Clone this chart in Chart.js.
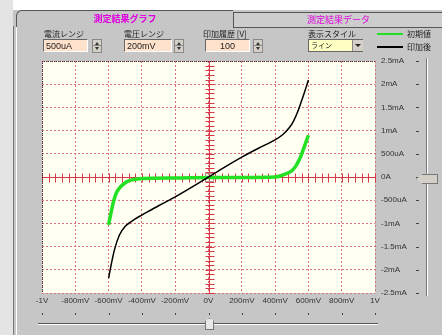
<!DOCTYPE html>
<html>
<head>
<meta charset="utf-8">
<script src="https://cdn.jsdelivr.net/npm/chart.js@4/dist/chart.umd.min.js"></script>
<style>
  body { margin:0; width:442px; height:335px; overflow:hidden; background:#c6c6c6; position:relative;
         font-family:"Noto Sans CJK JP","DejaVu Sans",sans-serif; font-size:8px; color:#222; }
  .abs { position:absolute; }
  #topband { left:0; top:0; width:442px; height:10px; background:#fff; }
  #leftstrip { left:0; top:0; width:13px; height:335px; background:#e4e4e4; }
  #frame { left:13px; top:26px; width:2px; height:309px; border-left:1px solid #777; border-right:1px solid #fff; background:#c6c6c6; }
  .tab { top:10px; height:16px; text-align:center; line-height:16px; color:#e000e0; font-weight:bold; font-size:9px; }
  #tab1 { left:16px; width:216px; border-top:1px solid #555; border-left:1px solid #555; border-top-left-radius:6px; background:#c6c6c6; }
  #tab2 { left:233px; top:12px; height:14px; line-height:14px; width:209px; border-top:1px solid #555; border-left:1px solid #555; border-bottom:1px solid #555; background:#cdcdcd; font-weight:normal; }
  .lbl { top:28px; font-size:8px; color:#222; white-space:nowrap; }
  .inp { top:39px; height:13px; line-height:12px; background:#ffe2cc; border-top:1px solid #666; border-left:1px solid #666;
         border-bottom:1px solid #fff; border-right:1px solid #fff; font-family:"Liberation Sans",sans-serif; font-size:9px; padding-left:2px; box-sizing:border-box; }
  .spin { top:39px; width:10px; height:14px; background:#d4d0c8; border:1px solid #888; box-sizing:border-box; }
  .spin:before, .spin:after { content:""; position:absolute; left:2px; border-left:2px solid transparent; border-right:2px solid transparent; }
  .spin:before { top:2px; border-bottom:3px solid #333; }
  .spin:after { top:7px; border-top:3px solid #333; }
  .spin i { position:absolute; left:0; top:5px; width:8px; height:1px; background:#888; }
  #sel { left:308px; top:39px; width:55px; height:13px; background:#ffffc4; border:1px solid #666; box-sizing:border-box; line-height:11px; padding-left:2px; font-size:7px; }
  #selbtn { left:352px; top:40px; width:10px; height:11px; background:#d4d0c8; border-left:1px solid #888; }
  #selbtn:after { content:""; position:absolute; left:2px; top:4px; border-left:3px solid transparent; border-right:3px solid transparent; border-top:3px solid #222; }
  .legline { left:377px; width:26px; height:2px; }
  .legtxt { left:407px; font-size:8px; }
  #vtrack { left:426px; top:58px; width:1px; height:238px; background:#777; border-right:1px solid #fff; }
  #vthumb { left:416px; top:174px; width:20px; height:8px; background:#d4d0c8; border:1px solid #777;
            clip-path:polygon(0 50%, 30% 0, 100% 0, 100% 100%, 30% 100%); }
  #htrack { left:38px; top:323px; width:340px; height:1px; background:#555; border-bottom:1px solid #fff; }
  #hthumb { left:205px; top:318px; width:9px; height:12px; background:#e8e8e8; border:1px solid #777; box-sizing:border-box;
            clip-path:polygon(50% 0, 100% 25%, 100% 100%, 0 100%, 0 25%); }
</style>
</head>
<body>
<canvas id="chart" width="442" height="335" class="abs" style="left:0;top:0"></canvas>

<div id="topband" class="abs"></div>
<div id="leftstrip" class="abs"></div>
<div id="frame" class="abs"></div>
<div id="tab1" class="abs tab">測定結果グラフ</div>
<div id="tab2" class="abs tab">測定結果データ</div>

<div class="abs lbl" style="left:44px">電流レンジ</div>
<div class="abs inp" style="left:43px;width:45px">500uA</div>
<div class="abs spin" style="left:92px"><i></i></div>

<div class="abs lbl" style="left:124px">電圧レンジ</div>
<div class="abs inp" style="left:124px;width:48px">200mV</div>
<div class="abs spin" style="left:174px"><i></i></div>

<div class="abs lbl" style="left:203px">印加履歴 [V]</div>
<div class="abs inp" style="left:205px;width:45px;text-align:center;padding:0">100</div>
<div class="abs spin" style="left:253px"><i></i></div>

<div class="abs lbl" style="left:308px">表示スタイル</div>
<div id="sel" class="abs">ライン</div>
<div id="selbtn" class="abs"></div>

<div class="abs legline" style="top:33px;background:#22e022"></div>
<div class="abs legtxt" style="top:28px">初期値</div>
<div class="abs legline" style="top:46px;background:#000"></div>
<div class="abs legtxt" style="top:41px">印加後</div>

<div id="vtrack" class="abs"></div>
<div id="vthumb" class="abs"></div>
<div id="htrack" class="abs"></div>
<div id="hthumb" class="abs"></div>

<script>
// voltage (mV) / current (mA)
const initV = [-600, -590, -582, -570, -553, -535, -516, -490, -456, -400, -200, 0, 200, 400, 445, 480, 505, 525, 545, 560, 575, 590, 600];
const initI = [-1.03, -0.85, -0.71, -0.52, -0.34, -0.24, -0.17, -0.10, -0.06, -0.03, -0.02, -0.01, -0.01, 0, 0.04, 0.09, 0.15, 0.24, 0.37, 0.50, 0.65, 0.80, 0.90];

const afterV = [-600, -585, -565, -535, -500, -475, -440, -400, -300, -200, -100, 0, 100, 200, 300, 400, 445, 485, 510, 535, 555, 575, 600];
const afterI = [-2.18, -1.90, -1.57, -1.25, -1.06, -0.99, -0.90, -0.82, -0.62, -0.43, -0.22, 0, 0.22, 0.43, 0.62, 0.80, 0.91, 1.06, 1.20, 1.40, 1.60, 1.81, 2.09];

const xTickLabels = ['-1V', '-800mV', '-600mV', '-400mV', '-200mV', '0V', '200mV', '400mV', '600mV', '800mV', '1V'];
const yTickLabels = ['-2.5mA', '-2mA', '-1.5mA', '-1mA', '-500uA', '0A', '500uA', '1mA', '1.5mA', '2mA', '2.5mA'];

const toPts = (xs, ys) => xs.map((v, i) => ({ x: v, y: ys[i] }));

const plotDeco = {
  id: 'plotDeco',
  beforeDraw(chart) {
    const { ctx, chartArea: a } = chart;
    ctx.save();
    ctx.fillStyle = '#fffff2';
    ctx.fillRect(a.left, a.top, a.right - a.left, a.bottom - a.top);
    ctx.restore();
  },
  beforeDatasetsDraw(chart) {
    const { ctx, chartArea: a, scales: { x, y } } = chart;
    const x0 = Math.round(x.getPixelForValue(0)) + 0.5;
    const y0 = Math.round(y.getPixelForValue(0)) + 0.5;
    ctx.save();
    ctx.strokeStyle = '#d83848';
    ctx.lineWidth = 1;
    ctx.beginPath();
    ctx.moveTo(x0, a.top); ctx.lineTo(x0, a.bottom);
    ctx.moveTo(a.left, y0); ctx.lineTo(a.right, y0);
    // minor ticks on the centre axes, 5 per division
    for (let k = -25; k <= 25; k++) {
      const px = Math.round(x.getPixelForValue(k * 40)) + 0.5;
      ctx.moveTo(px, y0 - 4); ctx.lineTo(px, y0 + 5);
      const py = Math.round(y.getPixelForValue(k * 0.1)) + 0.5;
      ctx.moveTo(x0 - 4, py); ctx.lineTo(x0 + 5, py);
    }
    ctx.stroke();
    ctx.strokeStyle = '#b09090';
    ctx.strokeRect(x0 - 4, y0 - 4, 8, 8);
    // left / top edge dotted dark
    ctx.strokeStyle = '#333';
    ctx.setLineDash([1, 1]);
    ctx.beginPath();
    ctx.moveTo(a.left + 0.5, a.top); ctx.lineTo(a.left + 0.5, a.bottom);
    ctx.moveTo(a.left, a.top + 0.5); ctx.lineTo(a.right, a.top + 0.5);
    ctx.stroke();
    ctx.restore();
  },
  afterDraw(chart) {
    // slider tick marks next to the axes
    const { ctx, scales: { x, y } } = chart;
    ctx.save();
    ctx.fillStyle = '#444';
    y.ticks.forEach((t, i) => {
      const py = Math.round(y.getPixelForTick(i));
      ctx.fillRect(416, py, 3, 1);
    });
    x.ticks.forEach((t, i) => {
      const px = Math.round(x.getPixelForTick(i));
      ctx.fillRect(px, 313, 1, 2);
    });
    ctx.restore();
  }
};

Chart.defaults.font.family = '"Liberation Sans", sans-serif';
Chart.defaults.font.size = 8;
Chart.defaults.color = '#333';

new Chart(document.getElementById('chart'), {
  type: 'scatter',
  data: {
    datasets: [
      {
        label: '初期値',
        data: toPts(initV, initI),
        showLine: true,
        borderColor: '#22e022',
        borderWidth: 3.5,
        pointRadius: 0,
        cubicInterpolationMode: 'monotone',
        order: 2
      },
      {
        label: '印加後',
        data: toPts(afterV, afterI),
        showLine: true,
        borderColor: '#000',
        borderWidth: 1.5,
        pointRadius: 0,
        cubicInterpolationMode: 'monotone',
        order: 1
      }
    ]
  },
  options: {
    responsive: false,
    animation: false,
    layout: { padding: { left: 42, top: 61, right: 0, bottom: 0 } },
    plugins: { legend: { display: false }, tooltip: { enabled: false } },
    scales: {
      x: {
        type: 'linear', min: -1000, max: 1000,
        afterFit(s) { s.height = 42; },
        ticks: { stepSize: 200, autoSkip: false, maxRotation: 0, padding: 3,
                 callback: (v, i) => xTickLabels[i] },
        grid: { color: '#d8707e', drawTicks: false },
        border: { display: false, dash: [2, 2] }
      },
      y: {
        type: 'linear', position: 'right', min: -2.5, max: 2.5,
        afterFit(s) { s.width = 67; },
        ticks: { stepSize: 0.5, autoSkip: false, padding: 6,
                 callback: (v, i) => yTickLabels[i] },
        grid: { color: '#d8707e', drawTicks: false },
        border: { display: false, dash: [2, 2] }
      }
    }
  },
  plugins: [plotDeco]
});
</script>
</body>
</html>
